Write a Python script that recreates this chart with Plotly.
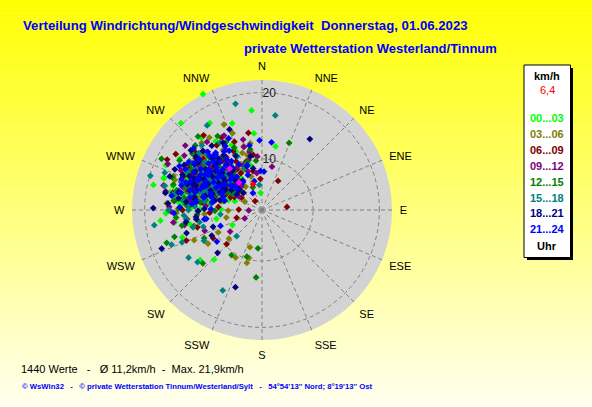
import plotly.graph_objects as go

# Wind direction (deg) and speed (km/h), grouped by time of day
lime_dir = [333, 354, 317, 264, 231, 224, 329, 341, 354, 12, 288, 281, 276, 293, 300, 268, 272, 285, 297, 305,
            311, 318, 326, 262, 278, 290, 302, 314, 322, 336, 283, 295, 308, 270, 259, 275, 299, 346, 251, 286,
            301, 289, 306, 278, 294, 312, 283, 299, 271, 308, 286, 296, 315, 280, 303, 291, 274, 310, 298, 284,
            307, 292, 279, 300, 287, 313, 295, 282, 304, 276, 290, 309, 297, 285, 302, 293,
            320, 335, 334, 316, 301, 288, 327, 297, 281, 355, 288, 271, 259, 243]
lime_spd = [21.9, 17.4, 20.2, 17.7, 14.3, 12.7, 17.6, 16.1, 13.9, 12.1, 17.8, 16.4, 15.1, 14.6, 13.2, 16.8, 12.9, 12.2, 11.5, 10.8,
            13.7, 12.4, 14.8, 15.6, 10.3, 9.6, 16.9, 9.1, 10.7, 11.9, 19.1, 18.3, 8.4, 9.9, 13.4, 14.0, 15.3, 9.2, 15.0, 7.6,
            11.4, 13.8, 9.7, 12.5, 10.2, 11.9, 14.2, 8.9, 11.6, 13.1, 10.5, 12.8, 10.0, 13.5, 9.3, 11.1, 14.6, 12.2, 7.8, 12.0,
            14.0, 9.0, 15.8, 12.9, 8.3, 7.1, 15.0, 11.3, 13.6, 10.8, 14.9, 9.8, 13.0, 16.2, 10.4, 12.3,
            16.5, 13.1, 11.6, 12.4, 14.1, 17.9, 8.2, 10.5, 14.6, 4.9, 6.6, 8.5, 9.3, 7.3]

olive_dir = [336, 195, 198, 209, 196, 304, 312, 298, 287, 320, 327, 291, 279, 308, 316, 301, 294, 284, 273, 266,
             332, 339, 345, 310, 303, 289, 257, 246, 238, 318, 325, 296, 282, 306, 314, 300, 350, 268, 243, 229,
             318, 305, 292, 330, 299, 311, 286, 323, 302, 296, 314, 289, 307, 320, 281, 300, 293, 316, 309, 284,
             326, 297, 303, 312, 290, 335, 306, 278, 319, 295, 310, 287, 301, 324, 298, 313,
             324, 344, 341, 326, 304, 291, 342, 302, 284, 274, 296, 269, 258]
olive_spd = [16.4, 9.8, 8.2, 10.5, 10.6, 11.6, 9.4, 13.8, 12.6, 10.1, 13.1, 9.3, 11.2, 14.5, 12.0, 7.9, 15.4, 14.1, 13.6, 11.0,
             8.8, 14.7, 10.9, 7.1, 12.3, 16.2, 12.8, 13.5, 11.9, 15.9, 6.6, 10.4, 8.6, 13.3, 11.4, 9.0, 12.5, 15.2, 9.7, 8.9,
             10.2, 11.7, 12.9, 9.5, 8.0, 12.6, 10.9, 11.3, 13.9, 7.2, 9.9, 13.4, 10.5, 7.6, 12.0, 14.8, 11.6, 13.1, 8.3, 9.4,
             11.0, 12.4, 9.1, 14.4, 10.0, 9.9, 6.8, 14.0, 12.7, 13.2, 11.8, 8.6, 10.7, 12.1, 15.6, 7.9,
             15.8, 12.3, 11.4, 11.0, 13.2, 16.6, 7.6, 9.2, 13.1, 16.7, 5.2, 7.4, 7.8]

maroon_dir = [29, 83, 350, 298, 226, 306, 313, 295, 284, 321, 328, 300, 289, 309, 317, 277, 270, 263, 292, 303,
              311, 319, 334, 342, 255, 248, 281, 297, 307, 325, 286, 274, 315, 338, 301, 293, 267, 240, 347, 322,
              299, 310, 288, 321, 304, 294, 315, 282, 307, 297, 326, 290, 312, 301, 285, 318, 296, 308, 279, 323,
              303, 291, 314, 287, 330, 300, 295, 311, 283, 306, 319, 292, 302, 276, 316, 298,
              331, 303, 351, 332, 311, 293, 357, 308, 286, 276, 322, 271, 253]
maroon_spd = [7.3, 6.1, 14.1, 18.5, 9.7, 12.1, 10.4, 8.7, 13.0, 11.8, 9.5, 14.9, 10.6, 13.9, 12.7, 11.4, 14.3, 13.7, 7.4, 9.1,
              15.6, 8.0, 12.2, 10.0, 12.4, 14.6, 16.0, 11.1, 6.9, 14.2, 9.8, 8.9, 11.7, 13.4, 5.9, 12.8, 10.2, 10.8, 8.3, 16.6,
              10.8, 12.3, 11.5, 9.0, 13.7, 8.2, 11.0, 12.9, 9.8, 14.1, 11.9, 13.3, 7.5, 10.1, 10.4, 13.0, 12.1, 15.0, 13.1, 10.9,
              8.6, 9.6, 12.6, 14.5, 8.7, 11.7, 6.9, 14.0, 11.2, 10.3, 9.3, 12.7, 15.4, 12.4, 7.8, 13.8,
              14.8, 17.8, 10.7, 10.6, 11.6, 15.2, 7.0, 8.3, 11.2, 15.6, 4.0, 5.8, 6.3]

purple_dir = [13, 355, 352, 344, 337, 330, 323, 316, 309, 302, 296, 290, 283, 276, 269, 262, 318, 311, 304, 297,
              326, 333, 340, 348, 288, 281, 300, 314, 321, 307, 293, 272, 259, 250, 236, 329, 345, 286, 305, 317,
              306, 293, 319, 284, 311, 298, 325, 289, 303, 316, 280, 308, 295, 322, 287, 313, 300, 277, 310, 291,
              328, 304, 297, 318, 283, 307, 294, 315, 301, 288, 320, 296, 309, 274, 312, 299,
              310, 305, 296, 345, 315, 294, 284, 321, 287, 277, 269, 268, 244]
purple_spd = [9.0, 10.4, 7.9, 12.2, 9.6, 13.5, 11.1, 14.4, 8.6, 12.7, 10.3, 15.2, 9.4, 13.1, 12.0, 15.8, 7.0, 12.6, 14.0, 9.9,
              10.8, 14.9, 8.5, 11.3, 11.7, 17.1, 6.3, 10.0, 15.5, 13.6, 12.4, 16.3, 14.2, 11.5, 8.1, 12.9, 13.3, 14.7, 10.9, 8.4,
              11.6, 12.1, 9.3, 13.8, 10.6, 11.4, 11.8, 10.0, 13.2, 12.5, 12.6, 9.6, 14.3, 8.0, 11.9, 10.9, 12.3, 14.0, 13.5, 8.7,
              9.7, 10.1, 13.7, 12.2, 15.2, 7.4, 11.2, 14.8, 9.2, 13.0, 10.5, 15.9, 11.5, 10.8, 8.2, 12.8,
              17.4, 16.6, 18.1, 10.1, 10.9, 13.8, 17.6, 7.2, 10.2, 13.7, 16.0, 4.3, 5.2]

green_dir = [22, 185, 186, 214, 251, 297, 253, 228, 198, 308, 315, 301, 294, 287, 280, 273, 322, 329, 336, 343,
             304, 311, 318, 290, 283, 266, 259, 276, 298, 325, 332, 312, 305, 292, 269, 244, 349, 286, 319, 300,
             302, 289, 314, 296, 281, 308, 293, 320, 286, 304, 311, 298, 277, 316, 291, 306, 284, 324, 300, 295,
             312, 287, 303, 279, 318, 292, 309, 297, 283, 315, 301, 290, 307, 274, 321, 299,
             314, 309, 301, 353, 324, 299, 286, 338, 292, 278, 271, 265, 256]
green_spd = [13.2, 12.5, 8.1, 10.5, 17.5, 19.3, 16.1, 14.3, 9.7, 11.3, 13.6, 9.2, 12.5, 14.8, 10.9, 13.3, 8.7, 15.3, 12.6, 9.9,
             15.0, 10.1, 11.9, 16.7, 8.2, 12.1, 14.6, 15.7, 7.3, 10.5, 13.9, 6.4, 12.9, 11.0, 9.4, 12.0, 11.6, 13.8, 17.0, 14.1,
             10.6, 11.8, 11.2, 13.4, 12.6, 9.1, 10.2, 10.7, 14.0, 12.8, 8.4, 11.5, 11.7, 13.0, 13.9, 7.6, 9.8, 12.3, 14.6, 9.0,
             10.0, 12.4, 15.1, 14.2, 9.5, 11.0, 13.6, 8.2, 15.5, 11.1, 12.1, 9.4, 14.4, 13.8, 7.9, 12.9,
             16.3, 15.8, 16.8, 9.8, 9.5, 12.8, 16.2, 6.0, 8.7, 12.2, 14.9, 15.3, 13.0]

teal_dir = [346, 8, 287, 262, 237, 231, 206, 224, 249, 248, 280, 273, 266, 259, 293, 300, 307, 314, 321, 328,
            335, 284, 291, 298, 305, 312, 319, 277, 270, 256, 242, 327, 340, 296, 309, 288, 302, 316, 264, 282,
            295, 308, 283, 301, 314, 290, 304, 277, 297, 319, 286, 310, 293, 300, 280, 312, 289, 305, 274, 298,
            317, 285, 302, 292, 309, 279, 296, 313, 288, 306, 282, 299, 316, 291, 303, 287,
            317, 315, 304, 291, 337, 302, 288, 354, 301, 279, 270, 263, 254]
teal_spd = [18.8, 16.7, 19.9, 18.7, 15.5, 14.8, 15.8, 7.8, 16.9, 15.3, 15.6, 12.4, 14.1, 11.9, 13.7, 15.9, 10.2, 12.8, 9.6, 14.3,
            11.2, 17.4, 10.6, 8.9, 13.4, 15.1, 12.0, 10.0, 16.4, 13.0, 12.2, 17.5, 9.4, 11.5, 7.7, 14.9, 12.6, 9.9, 8.6, 13.2,
            12.9, 11.5, 13.6, 10.4, 9.8, 11.1, 12.7, 14.4, 14.9, 10.9, 12.2, 13.5, 9.0, 11.8, 16.0, 8.7, 15.2, 10.0, 13.4, 12.1,
            12.5, 10.8, 14.2, 13.9, 9.3, 12.4, 10.6, 11.3, 14.0, 8.1, 15.4, 11.0, 13.2, 9.5, 12.8, 11.6,
            15.6, 14.3, 15.5, 18.0, 9.1, 11.5, 14.7, 6.1, 7.0, 11.1, 13.4, 13.8, 11.5]

navy_dir = [34, 271, 249, 199, 226, 253, 292, 299, 306, 313, 320, 327, 334, 341, 285, 278, 271, 264, 295, 302,
            309, 316, 323, 330, 288, 281, 274, 261, 348, 338, 318, 304, 310, 297, 290, 283, 325, 312, 243, 300,
            305, 291, 316, 298, 284, 309, 295, 322, 287, 302, 313, 279, 300, 318, 293, 307, 289, 325, 296, 311,
            282, 303, 290, 315, 299, 276, 308, 294, 320, 286, 304, 297, 312, 292, 301, 310,
            322, 320, 306, 295, 348, 310, 290, 280, 313, 281, 269, 262, 251]
navy_spd = [15.2, 18.7, 18.5, 14.6, 11.6, 14.2, 11.8, 9.0, 12.8, 10.5, 13.2, 7.6, 11.4, 9.3, 13.6, 15.0, 11.0, 12.3, 14.4, 6.8,
            15.1, 12.1, 9.7, 14.0, 10.2, 12.7, 16.5, 13.9, 10.6, 15.4, 8.4, 11.3, 16.3, 13.0, 17.1, 8.8, 12.4, 6.9, 10.8, 15.8,
            11.9, 10.6, 13.0, 12.2, 11.1, 8.1, 13.6, 11.0, 12.6, 10.0, 12.0, 12.5, 13.9, 9.6, 9.2, 14.3, 14.2, 9.9, 11.3, 10.7,
            15.2, 7.8, 12.9, 14.9, 8.6, 13.8, 9.4, 15.4, 12.4, 10.3, 14.6, 12.8, 7.3, 13.5, 9.7, 11.4,
            14.6, 13.3, 14.6, 16.8, 8.7, 9.9, 13.3, 17.1, 6.1, 9.6, 11.9, 12.3, 10.1]

blue_dir = [8, 358, 3, 235, 300, 307, 314, 321, 328, 335, 342, 349, 293, 286, 279, 272, 303, 310, 317, 324,
            331, 338, 296, 289, 282, 275, 268, 261, 312, 305, 298, 319, 326, 333, 291, 284, 345, 316, 309, 302,
            297, 310, 285, 303, 318, 292, 306, 280, 299, 313, 288, 321, 295, 308, 283, 301, 315, 290, 304, 277,
            311, 294, 323, 287, 300, 316, 282, 307, 293, 319, 298, 312, 289, 305, 296, 325,
            330, 327, 311, 298, 358, 318, 293, 279, 332, 284, 271, 261, 249]
blue_spd = [12.6, 12.8, 8.1, 10.6, 10.7, 12.0, 8.9, 13.4, 11.0, 14.2, 9.4, 12.2, 11.6, 13.5, 9.9, 14.7, 15.5, 7.2, 14.3, 10.3,
            12.5, 8.0, 13.1, 8.5, 11.3, 12.9, 15.6, 11.1, 16.2, 9.1, 16.4, 11.9, 7.4, 10.0, 15.3, 10.1, 6.8, 13.7, 14.5, 12.4,
            11.8, 10.2, 12.7, 12.0, 9.1, 13.9, 10.6, 13.3, 14.1, 11.7, 10.4, 10.9, 12.9, 8.3, 11.4, 9.4, 12.6, 14.5, 13.4, 12.3,
            11.1, 8.8, 8.6, 15.0, 13.0, 10.8, 14.8, 12.4, 11.5, 13.1, 9.8, 7.7, 12.1, 14.7, 10.0, 11.6,
            13.4, 12.8, 13.0, 15.4, 8.2, 9.1, 11.9, 16.1, 5.2, 8.1, 10.0, 10.8, 9.0]

# last readings (highlighted)
hi_dir = [322, 320]
hi_spd = [10.2, 7.7]
last_dir = [341]
last_spd = [6.4]

hours = ["00...03", "03...06", "06...09", "09...12", "12...15", "15...18", "18...21", "21...24"]
colors = ["#00FF00", "#808000", "#800000", "#800080", "#008000", "#008080", "#000080", "#0000FF"]
dirs = [lime_dir, olive_dir, maroon_dir, purple_dir, green_dir, teal_dir, navy_dir, blue_dir]
spds = [lime_spd, olive_spd, maroon_spd, purple_spd, green_spd, teal_spd, navy_spd, blue_spd]

compass = ["N", "NNE", "NE", "ENE", "E", "ESE", "SE", "SSE",
           "S", "SSW", "SW", "WSW", "W", "WNW", "NW", "NNW"]
compass_deg = [i * 22.5 for i in range(16)]

n_values = 1440
avg_speed = "11,2"
max_speed = "21,9"
current = "6,4"

W, H = 592, 407
FONT = "Liberation Sans"
MSIZE = 5.2

fig = go.Figure()
for d, s, c, h in zip(dirs, spds, colors, hours):
    fig.add_trace(go.Scatterpolar(theta=d, r=s, mode="markers", name=h,
                                  marker=dict(symbol="diamond", size=MSIZE, color=c)))
fig.add_trace(go.Scatterpolar(theta=hi_dir, r=hi_spd, mode="markers",
                              marker=dict(symbol="diamond", size=MSIZE, color="#FF00FF")))
fig.add_trace(go.Scatterpolar(theta=last_dir, r=last_spd, mode="markers",
                              marker=dict(symbol="diamond", size=MSIZE, color="#FF0000")))

# background gradient yellow -> cream
shapes = []
n_strips = 100
for i in range(n_strips):
    b = int(round(240 * (i + 0.5) / n_strips))
    shapes.append(dict(type="rect", xref="paper", yref="paper", layer="below",
                       x0=0, x1=1, y0=1 - (i + 1) / n_strips - 0.001, y1=1 - i / n_strips,
                       fillcolor="rgb(255,255,%d)" % b, line=dict(width=0)))

def px(x):
    return x / W

def py(y):
    return 1 - y / H

# legend box with shadow
shapes.append(dict(type="rect", xref="paper", yref="paper", layer="below",
                   x0=px(527), x1=px(573), y0=py(260), y1=py(68),
                   fillcolor="black", line=dict(width=0)))
shapes.append(dict(type="rect", xref="paper", yref="paper", layer="below",
                   x0=px(524), x1=px(570.5), y0=py(257.5), y1=py(65),
                   fillcolor="white", line=dict(color="black", width=1)))

ann = []
ann.append(dict(text="Verteilung Windrichtung/Windgeschwindigkeit\u00a0\u00a0Donnerstag, 01.06.2023",
                x=px(21), y=py(25), xanchor="left", yanchor="middle", showarrow=False,
                font=dict(family=FONT, size=13.2, color="#0000FF", weight="bold")))
ann.append(dict(text="private Wetterstation Westerland/Tinnum",
                x=px(242), y=py(49), xanchor="left", yanchor="middle", showarrow=False,
                font=dict(family=FONT, size=13, color="#0000FF", weight="bold")))
ann.append(dict(text="%d Werte\u00a0\u00a0\u00a0-\u00a0\u00a0\u00a0\u00d8 %skm/h\u00a0\u00a0-\u00a0\u00a0Max. %skm/h"
                     % (n_values, avg_speed, max_speed),
                x=px(19), y=py(369), xanchor="left", yanchor="middle", showarrow=False,
                font=dict(family=FONT, size=11, color="black")))
ann.append(dict(text="\u00a9 WsWin32\u00a0\u00a0\u00a0-\u00a0\u00a0\u00a0\u00a9 private Wetterstation Tinnum/Westerland/Sylt"
                     "\u00a0\u00a0\u00a0-\u00a0\u00a0\u00a054\u00b054'13'' Nord; 8\u00b019'13'' Ost",
                x=px(20), y=py(386), xanchor="left", yanchor="middle", showarrow=False,
                font=dict(family=FONT, size=7.7, color="#0000FF", weight="bold")))

# legend texts
ann.append(dict(text="km/h", x=px(547), y=py(76), xanchor="center", yanchor="middle", showarrow=False,
                font=dict(family=FONT, size=11, color="black", weight="bold")))
ann.append(dict(text=current, x=px(547), y=py(90), xanchor="center", yanchor="middle", showarrow=False,
                font=dict(family=FONT, size=11, color="#FF0000")))
for i, (h, c) in enumerate(zip(hours, colors)):
    ann.append(dict(text=h, x=px(547), y=py(118 + i * 15.9), xanchor="center", yanchor="middle",
                    showarrow=False, font=dict(family=FONT, size=11, color=c, weight="bold")))
ann.append(dict(text="Uhr", x=px(547), y=py(246), xanchor="center", yanchor="middle", showarrow=False,
                font=dict(family=FONT, size=11, color="black", weight="bold")))

fig.update_layout(
    width=W, height=H,
    margin=dict(l=0, r=0, t=0, b=0),
    paper_bgcolor="#FFFFF0",
    showlegend=False,
    shapes=shapes,
    annotations=ann,
    polar=dict(
        domain=dict(x=[px(132), px(392)], y=[py(340), py(80)]),
        bgcolor="#D3D3D3",
        angularaxis=dict(direction="clockwise", rotation=90,
                         tickmode="array", tickvals=compass_deg, ticktext=compass,
                         showline=False, ticks="outside", ticklen=5, tickcolor="rgba(0,0,0,0)",
                         showgrid=True, gridcolor="#808080", griddash="4px,3px", gridwidth=1,
                         tickfont=dict(family=FONT, size=11, color="black")),
        radialaxis=dict(range=[2.3, 21.9], angle=90, tickangle=90,
                        tickmode="array", tickvals=[10, 20], ticktext=["10", "20"],
                        showline=False, ticks="",
                        showgrid=True, gridcolor="#808080", griddash="4px,3px", gridwidth=1,
                        tickfont=dict(family=FONT, size=12, color="#202020")),
    ),
)

fig.write_html("out.html", config={"displayModeBar": False},
               post_script="document.body.style.margin='0';document.body.style.overflow='hidden';")
